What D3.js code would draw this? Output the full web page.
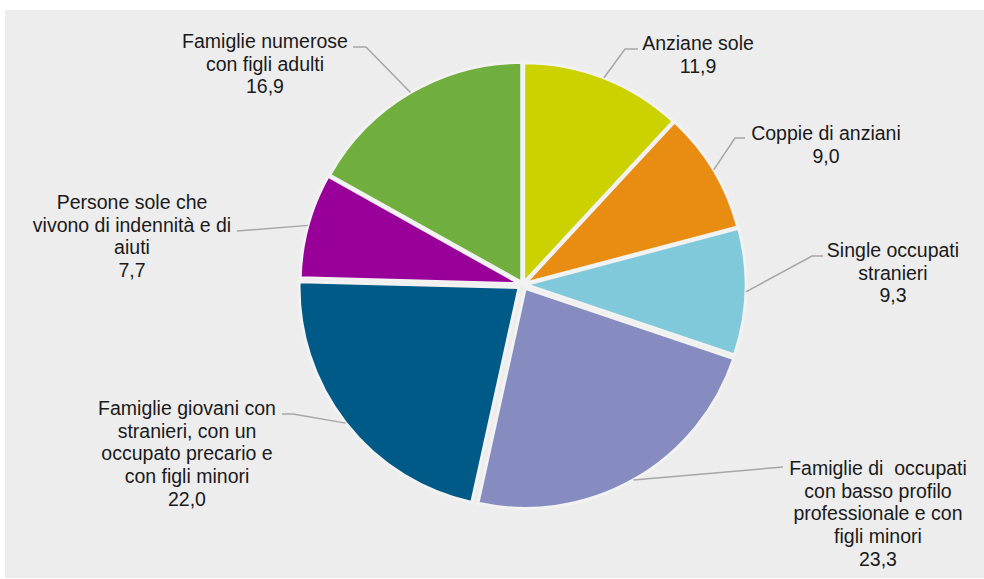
<!DOCTYPE html>
<html>
<head>
<meta charset="utf-8">
<script src="https://cdn.jsdelivr.net/npm/d3@7"></script>
<style>
  html, body { margin: 0; padding: 0; background: #ffffff; }
  svg { display: block; }
  text { font-family: "Liberation Sans", Arial, sans-serif; white-space: pre; }
</style>
</head>
<body>
<svg id="chart" width="984" height="579"></svg>
<script>
// ---- data ----
const categories = [
  "Anziane sole",
  "Coppie di anziani",
  "Single occupati stranieri",
  "Famiglie di occupati con basso profilo professionale e con figli minori",
  "Famiglie giovani con stranieri, con un occupato precario e con figli minori",
  "Persone sole che vivono di indennità e di aiuti",
  "Famiglie numerose con figli adulti"
];
const labelLines = [
  ["Anziane sole"],
  ["Coppie di anziani"],
  ["Single occupati", "stranieri"],
  ["Famiglie di  occupati", "con basso profilo", "professionale e con", "figli minori"],
  ["Famiglie giovani con", "stranieri, con un", "occupato precario e", "con figli minori"],
  ["Persone sole che", "vivono di indennità e di", "aiuti"],
  ["Famiglie numerose", "con figli adulti"]
];
const values = [11.9, 9.0, 9.3, 23.3, 22.0, 7.7, 16.9];
const colors = ["#CCD200", "#E98C12", "#80C9DA", "#868CBF", "#005A87", "#990099", "#70AF3D"];

// ---- layout (positions / styles) ----
const W = 984, H = 579;
const cx = 523, cy = 284.5, R = 220;
const explode = [2, 2.5, 3, 4.5, 5, 3, 2.5];
const labelLayout = [
  { tx: 698, ty: 50,  elbow: [625, 49],  end: [638, 49] },
  { tx: 826, ty: 140, elbow: [735, 138], end: [745, 138] },
  { tx: 893, ty: 257, elbow: [812, 256], end: [823, 256] },
  { tx: 878, ty: 475, elbow: null,       end: [783, 467] },
  { tx: 187, ty: 415, elbow: [293, 414], end: [282, 414] },
  { tx: 132, ty: 209, elbow: null,       end: [237, 231] },
  { tx: 265, ty: 48,  elbow: [366, 47],  end: [353, 47] }
];
const lineH = 22.7;
const fontSize = 19.5;

const locale = d3.formatLocale({ decimal: ",", thousands: ".", grouping: [3], currency: ["€", ""] });
const fmt = locale.format(".1f");

const svg = d3.select("#chart");
svg.append("rect").attr("x", 5).attr("y", 10).attr("width", W - 5).attr("height", 568).attr("fill", "#EDEDED");

const pie = d3.pie().sort(null).value(d => d.value).startAngle(0).endAngle(2 * Math.PI);
const data = categories.map((c, i) => ({ name: c, value: values[i], color: colors[i], lines: labelLines[i], layout: labelLayout[i], explode: explode[i] }));
const arcs = pie(data);

const arc = d3.arc().innerRadius(0).outerRadius(R);
const edgeArc = d3.arc().innerRadius(R).outerRadius(R);

const g = svg.append("g").attr("transform", `translate(${cx},${cy})`);

function offset(d) {
  const m = (d.startAngle + d.endAngle) / 2;
  return [d.data.explode * Math.sin(m), -d.data.explode * Math.cos(m)];
}

g.selectAll("path.slice")
  .data(arcs)
  .join("path")
  .attr("class", "slice")
  .attr("d", arc)
  .attr("transform", d => { const o = offset(d); return `translate(${o[0]},${o[1]})`; })
  .attr("fill", d => d.data.color)
  .attr("stroke", "#F2F2F2")
  .attr("stroke-width", 3)
  .attr("stroke-linejoin", "miter");

// leader lines
const lineGen = d3.line();
svg.selectAll("path.leader")
  .data(arcs)
  .join("path")
  .attr("class", "leader")
  .attr("d", d => {
    const o = offset(d);
    const c = edgeArc.centroid(d);
    const p0 = [cx + c[0] + o[0], cy + c[1] + o[1]];
    const pts = [p0];
    if (d.data.layout.elbow) pts.push(d.data.layout.elbow);
    pts.push(d.data.layout.end);
    return lineGen(pts);
  })
  .attr("fill", "none")
  .attr("stroke", "#A6A6A6")
  .attr("stroke-width", 1.5);

// labels
const lbl = svg.selectAll("text.label")
  .data(arcs)
  .join("text")
  .attr("class", "label")
  .attr("text-anchor", "middle")
  .attr("font-size", fontSize)
  .attr("fill", "#1A1A1A");

lbl.each(function(d) {
  const t = d3.select(this);
  const lines = d.data.lines.concat([fmt(d.data.value)]);
  lines.forEach((s, i) => {
    t.append("tspan")
      .attr("x", d.data.layout.tx)
      .attr("y", d.data.layout.ty + i * lineH)
      .text(s);
  });
});
</script>
</body>
</html>
